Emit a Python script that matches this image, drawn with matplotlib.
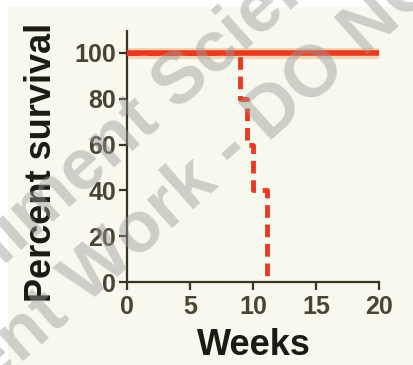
import numpy as np
import matplotlib.pyplot as plt
from matplotlib.patches import Rectangle

# survival data (weeks, percent)
ctrl_weeks = [0, 20]
ctrl_surv = [100, 100]
treat_weeks = [0, 9, 9.5, 10, 11.1]
treat_surv = [100, 80, 60, 40, 0]

xticks = [0, 5, 10, 15, 20]
yticks = [0, 20, 40, 60, 80, 100]

W, H = 414, 365


def fx(px):
    return px / W


def fy(py):
    return 1 - py / H


fig = plt.figure(figsize=(W / 100, H / 100), dpi=100, facecolor='white')
fig.patches.append(Rectangle((fx(8), 0), 1, fy(7), transform=fig.transFigure,
                             facecolor='#f8f8ee', edgecolor='none', zorder=-10))

ax = fig.add_axes([fx(127), fy(282), 252 / W, 251 / H])
ax.patch.set_alpha(0)

red = '#e83a22'
# soft glow under the lines
ax.plot(ctrl_weeks, ctrl_surv, color='#f7b07a', lw=8, alpha=0.5, solid_capstyle='butt')
ax.plot(ctrl_weeks, ctrl_surv, color=red, lw=4, solid_capstyle='butt', zorder=3)
ax.step(treat_weeks + [treat_weeks[-1]], treat_surv + [0], where='post',
        color=red, lw=3.5, ls=(0, (2.6, 1.4)), zorder=4)

ax.set_xlim(0, 20)
ax.set_ylim(0, 109.6)
ax.set_xticks(xticks)
ax.set_yticks(yticks)

for s in ['top', 'right']:
    ax.spines[s].set_visible(False)
for s in ['left', 'bottom']:
    ax.spines[s].set_color('#3a3222')
    ax.spines[s].set_linewidth(1.6)
ax.tick_params(direction='out', length=6, width=1.6, color='#3a3222',
               labelsize=18, labelcolor='#4a4434')
ax.tick_params(axis='y', pad=2)
ax.tick_params(axis='x', pad=3)
for lab in ax.get_xticklabels() + ax.get_yticklabels():
    lab.set_family('Liberation Sans')
    lab.set_fontweight('bold')

fig.text(fx(254), fy(355), 'Weeks', fontsize=26, fontweight='bold',
         family='Liberation Sans', color='#1c1a14', ha='center', va='baseline')
fig.text(fx(42), fy(162), 'Percent survival', fontsize=26, fontweight='bold',
         family='Liberation Sans', color='#1c1a14', rotation=90,
         ha='center', va='center')

# faint diagonal watermark
wm = dict(rotation=41.7, rotation_mode='anchor', fontsize=52, fontweight='bold',
          color='#9a9a9a', alpha=0.45, ha='left', va='baseline',
          family='Liberation Sans', zorder=10)
fig.text(fx(-150), fy(403), 'Compliment Scientific', **wm)
fig.text(fx(-229), fy(586), 'Department Work - DO NOT', **wm)

fig.savefig('out.png', dpi=100, facecolor='white')
